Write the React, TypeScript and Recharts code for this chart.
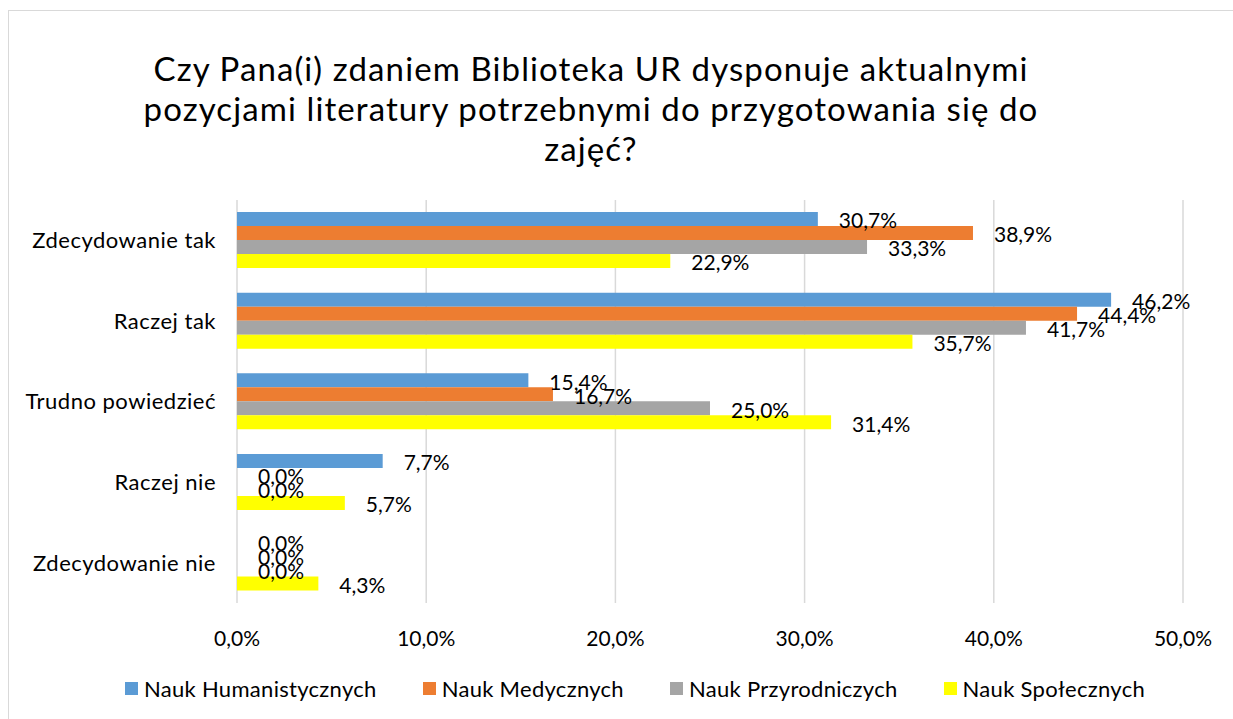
import React from 'react';
import { BarChart, Bar, XAxis, YAxis, CartesianGrid, LabelList } from 'recharts';

// Answers (categories) as in the survey
const categories = ['Zdecydowanie tak', 'Raczej tak', 'Trudno powiedzieć', 'Raczej nie', 'Zdecydowanie nie'];

// Percent values per faculty group
const humanistyczne = [30.7, 46.2, 15.4, 7.7, 0.0];
const medyczne = [38.9, 44.4, 16.7, 0.0, 0.0];
const przyrodnicze = [33.3, 41.7, 25.0, 0.0, 0.0];
const spoleczne = [22.9, 35.7, 31.4, 5.7, 4.3];

const xTicks = [0, 10, 20, 30, 40, 50];

const seriesNames = ['Nauk Humanistycznych', 'Nauk Medycznych', 'Nauk Przyrodniczych', 'Nauk Społecznych'];
const seriesColors = ['#5B9BD5', '#ED7D31', '#A5A5A5', '#FFFF00'];
const seriesKeys = ['hum', 'med', 'prz', 'spo'];

const titleLines = [
  'Czy Pana(i) zdaniem Biblioteka UR dysponuje aktualnymi',
  'pozycjami literatury potrzebnymi do przygotowania się do',
  'zajęć?',
];

const chartData = categories.map((category, i) => ({
  category,
  hum: humanistyczne[i],
  med: medyczne[i],
  prz: przyrodnicze[i],
  spo: spoleczne[i],
}));

const FONT = 'Lato, "Open Sans", sans-serif';

const pct = (v: number) => `${v.toFixed(1).replace('.', ',')}%`;

const BarLabel = (props: any) => {
  const { x, y, width, height, value } = props;
  return (
    <text
      x={Number(x) + Number(width) + 21}
      y={Number(y) + Number(height) / 2 + 4}
      dominantBaseline="middle"
      fontSize={21}
      fontFamily={FONT}
      fill="#000"
    >
      {pct(Number(value))}
    </text>
  );
};

export default function App() {
  return (
    <div style={{ position: 'absolute', left: 0, top: 0, width: 1233, height: 719, overflow: 'hidden', background: '#fff', fontFamily: FONT }}>
      {/* chart frame */}
      <div style={{ position: 'absolute', left: 8, top: 10, width: 1260, height: 740, border: '1px solid #d9d9d9' }} />

      {/* title */}
      <div style={{ position: 'absolute', left: 0, top: 48, width: 1182, textAlign: 'center', fontSize: 33, letterSpacing: 1.1, lineHeight: '40px', color: '#000' }}>
        {titleLines.map((line) => (
          <div key={line}>{line}</div>
        ))}
      </div>

      <div style={{ position: 'absolute', left: 0, top: 0 }}>
        <BarChart
          width={1233}
          height={719}
          data={chartData}
          layout="vertical"
          margin={{ top: 200, right: 50, bottom: 76, left: 17 }}
          barCategoryGap="15%"
          barGap={0}
        >
          <CartesianGrid horizontal={false} stroke="#d9d9d9" strokeWidth={1.5} />
          <XAxis
            type="number"
            domain={[0, 50]}
            ticks={xTicks}
            height={40}
            axisLine={false}
            tickLine={false}
            tickMargin={22}
            tick={{ fontSize: 21, fill: '#000', fontFamily: FONT }}
            tickFormatter={(v) => pct(v)}
          />
          <YAxis
            type="category"
            dataKey="category"
            width={220}
            axisLine={false}
            tickLine={false}
            tickMargin={15}
            tick={{ fontSize: 22, fill: '#000', fontFamily: FONT, letterSpacing: 0.5 }}
          />
          {seriesKeys.map((key, i) => (
            <Bar key={key} dataKey={key} name={seriesNames[i]} fill={seriesColors[i]} minPointSize={0.01} isAnimationActive={false}>
              <LabelList dataKey={key} content={<BarLabel />} />
            </Bar>
          ))}
        </BarChart>
      </div>

      {/* legend */}
      <div style={{ position: 'absolute', left: 125, top: 675, display: 'flex', alignItems: 'center', fontSize: 22, letterSpacing: 0.3, color: '#000' }}>
        {seriesNames.map((name, i) => (
          <div key={name} style={{ display: 'flex', alignItems: 'center', marginRight: 46 }}>
            <span style={{ display: 'inline-block', width: 13, height: 13, background: seriesColors[i], marginRight: 6 }} />
            <span>{name}</span>
          </div>
        ))}
      </div>
    </div>
  );
}
